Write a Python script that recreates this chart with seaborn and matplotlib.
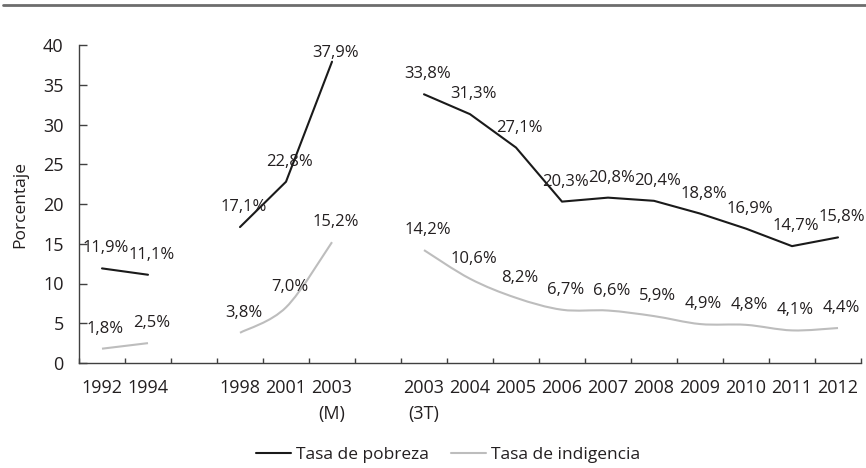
import numpy as np
import pandas as pd
import matplotlib.pyplot as plt
import seaborn as sns
from matplotlib.lines import Line2D
from matplotlib.path import Path
from matplotlib.patches import PathPatch
from matplotlib.ticker import FixedLocator

# categorias del eje x (las vacias separan los tramos de la serie)
categorias = ["1992", "1994", "", "1998", "2001", "2003\n(M)", "", "2003\n(3T)",
              "2004", "2005", "2006", "2007", "2008", "2009", "2010", "2011", "2012"]
pobreza = [11.9, 11.1, np.nan, 17.1, 22.8, 37.9, np.nan, 33.8, 31.3, 27.1,
           20.3, 20.8, 20.4, 18.8, 16.9, 14.7, 15.8]
indigencia = [1.8, 2.5, np.nan, 3.8, 7.0, 15.2, np.nan, 14.2, 10.6, 8.2,
              6.7, 6.6, 5.9, 4.9, 4.8, 4.1, 4.4]
series = {"Tasa de pobreza": pobreza, "Tasa de indigencia": indigencia}
colores = {"Tasa de pobreza": "#1a1a1a", "Tasa de indigencia": "#bdbdbd"}

sns.set_theme(style="ticks")
plt.rcParams["font.family"] = ["Open Sans", "DejaVu Sans"]
texto = "#231f20"

# datos en formato largo, con un tramo por cada bloque sin huecos
filas = []
for nombre, valores in series.items():
    tramo = 0
    for i, v in enumerate(valores):
        if np.isnan(v):
            tramo += 1
            continue
        filas.append({"pos": i, "valor": v, "serie": nombre, "tramo": tramo})
df = pd.DataFrame(filas)

fig = plt.figure(figsize=(8.66, 4.68), dpi=100)
ax = fig.add_axes([79 / 866, 1 - 363 / 468, 782 / 866, 318 / 468])

# pobreza con lineas rectas
sns.lineplot(data=df[df.serie == "Tasa de pobreza"], x="pos", y="valor", units="tramo",
             estimator=None, color=colores["Tasa de pobreza"], linewidth=1.5,
             legend=False, ax=ax)


# indigencia con linea suavizada (como la opcion de Excel)
def tramo_suave(xs, ys):
    p = np.column_stack([xs, ys])
    ext = np.vstack([p[0], p, p[-1]])
    verts = [p[0]]
    codes = [Path.MOVETO]
    for k in range(len(p) - 1):
        p0, p1, p2, p3 = ext[k], ext[k + 1], ext[k + 2], ext[k + 3]
        verts += [p1 + (p2 - p0) / 6, p2 - (p3 - p1) / 6, p2]
        codes += [Path.CURVE4] * 3
    return Path(verts, codes)


sub = df[df.serie == "Tasa de indigencia"]
for _, g in sub.groupby("tramo"):
    ax.add_patch(PathPatch(tramo_suave(g.pos.values, g.valor.values), fill=False,
                           edgecolor=colores["Tasa de indigencia"], linewidth=1.5,
                           capstyle="butt", joinstyle="round"))

# etiquetas de datos (Excel las mantiene dentro del area del grafico)
px_por_unidad = 318 / 40
for nombre, valores in series.items():
    for i, v in enumerate(valores):
        if np.isnan(v):
            continue
        dy = min(14.4, (40 - v) * px_por_unidad * 72 / 100 - 6.1)
        ax.annotate(f"{v:.1f}%".replace(".", ","), (i, v), xytext=(2.5, dy),
                    textcoords="offset points", ha="center", va="center",
                    fontsize=12, color=texto)

ax.set_xlim(-0.5, len(categorias) - 0.5)
ax.set_ylim(0, 40)
ax.set_yticks(range(0, 41, 5))
ax.set_xticks(range(len(categorias)))
ax.set_xticklabels(categorias, linespacing=1.55)
ax.xaxis.set_minor_locator(FixedLocator(np.arange(-0.5, len(categorias), 1)))
ax.tick_params(axis="x", which="major", length=0, pad=11.5, labelsize=13, labelcolor=texto)
ax.tick_params(axis="x", which="minor", direction="in", length=3.6, width=1, color="#404040")
ax.tick_params(axis="y", direction="in", length=5.5, width=1, color="#404040",
               pad=11, labelsize=13, labelcolor=texto)
for lado in ["top", "right"]:
    ax.spines[lado].set_visible(False)
for lado in ["left", "bottom"]:
    ax.spines[lado].set_color("#404040")
    ax.spines[lado].set_linewidth(1)
ax.set_xlabel("")
ax.set_ylabel("Porcentaje", fontsize=12.5, color=texto, labelpad=11)

manejadores = [Line2D([], [], color=colores[n], linewidth=1.5) for n in series]
leg = ax.legend(manejadores, list(series), loc="center",
                bbox_to_anchor=((448 - 79) / 782, (363 - 455) / 318),
                ncol=2, frameon=False, fontsize=12.5,
                handlelength=2.0, handletextpad=0.3, columnspacing=1.3)
for t in leg.get_texts():
    t.set_color(texto)

# linea gris superior
fig.add_artist(Line2D([0.003, 1], [1 - 5 / 468] * 2, transform=fig.transFigure,
                      color="#6d6d6d", linewidth=2))

fig.savefig("out.png", dpi=100)
